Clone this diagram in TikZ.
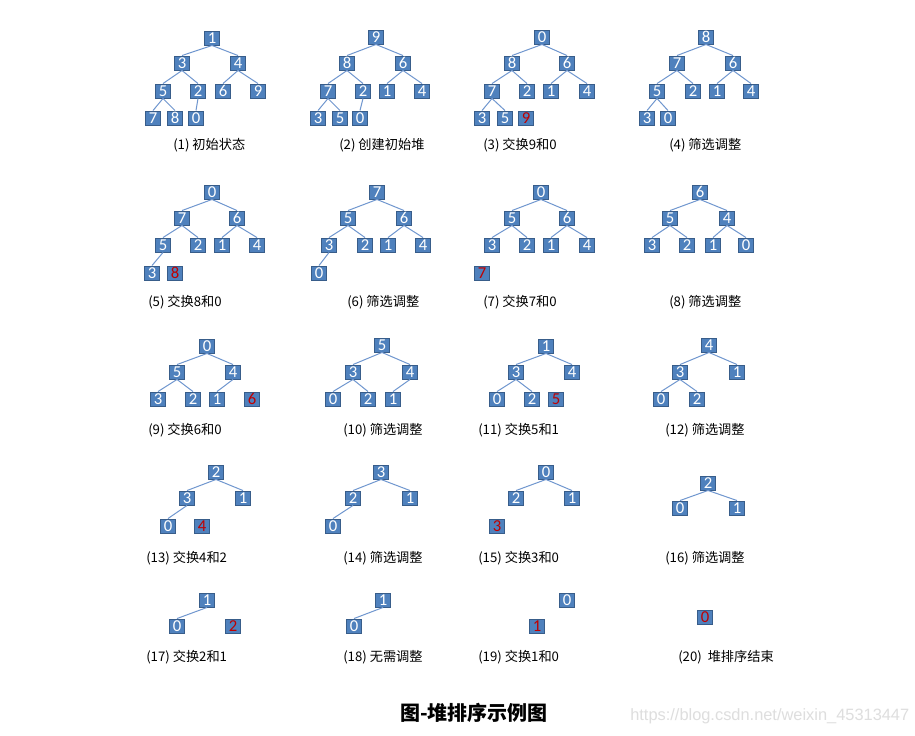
\documentclass[tikz,border=0pt]{standalone}
\usepackage{fontspec}
\setmainfont{Carlito}
\newfontfamily\cjk{Noto Sans CJK SC}
\newfontfamily\wmfont{Liberation Sans}
\definecolor{boxfill}{HTML}{4F81BD}
\definecolor{boxline}{HTML}{385D8A}
\definecolor{edgeblue}{HTML}{7097CF}
\definecolor{gone}{HTML}{C00000}

\begin{document}
\begin{tikzpicture}[x=0.75pt, y=-0.75pt,
        box/.style={draw=boxline, fill=boxfill, line width=0.7pt, text=white,
            minimum width=11.25pt, minimum height=10.5pt, inner sep=0pt,
            font=\fontsize{12.5}{12}\selectfont},
        gonebox/.style={box, text=gone},
        edge/.style={draw=edgeblue, line width=0.75pt},
        lbl/.style={anchor=west, inner sep=0pt, font=\cjk\fontsize{9.9}{11}\selectfont}]
        \fill[white] (0, 0) rectangle (915, 736);

        % (1)
        \node[box] (a1) at (212, 38) {1};
        \node[box] (a3) at (182, 63) {3};
        \node[box] (a4) at (238, 63) {4};
        \node[box] (a5) at (163, 91) {5};
        \node[box] (a2) at (198, 91) {2};
        \node[box] (a6) at (223, 91) {6};
        \node[box] (a9) at (258, 91) {9};
        \node[box] (a7) at (153, 118) {7};
        \node[box] (a8) at (175, 118) {8};
        \node[box] (a0) at (196, 118) {0};
        \node[lbl] (la) at (173, 145) {(1) 初始状态};

        \draw[edge] (a1.south) -- (a3.north);
        \draw[edge] (a1.south) -- (a4.north);
        \draw[edge] (a3.south) -- (a5.north);
        \draw[edge] (a3.south) -- (a2.north);
        \draw[edge] (a4.south) -- (a6.north);
        \draw[edge] (a4.south) -- (a9.north);
        \draw[edge] (a5.south) -- (a7.north);
        \draw[edge] (a5.south) -- (a8.north);
        \draw[edge] (a2.south) -- (a0.north);

        % (2)
        \node[box] (b9) at (376, 37) {9};
        \node[box] (b8) at (347, 63) {8};
        \node[box] (b6) at (403, 63) {6};
        \node[box] (b7) at (328, 91) {7};
        \node[box] (b2) at (363, 91) {2};
        \node[box] (b1) at (387, 91) {1};
        \node[box] (b4) at (422, 91) {4};
        \node[box] (b3) at (318, 118) {3};
        \node[box] (b5) at (340, 118) {5};
        \node[box] (b0) at (360, 118) {0};
        \node[lbl] (lb) at (339, 145) {(2) 创建初始堆};

        \draw[edge] (b9.south) -- (b8.north);
        \draw[edge] (b9.south) -- (b6.north);
        \draw[edge] (b8.south) -- (b7.north);
        \draw[edge] (b8.south) -- (b2.north);
        \draw[edge] (b6.south) -- (b1.north);
        \draw[edge] (b6.south) -- (b4.north);
        \draw[edge] (b7.south) -- (b3.north);
        \draw[edge] (b7.south) -- (b5.north);
        \draw[edge] (b2.south) -- (b0.north);

        % (3)
        \node[box] (c0) at (542, 37) {0};
        \node[box] (c8) at (512, 63) {8};
        \node[box] (c6) at (567, 63) {6};
        \node[box] (c7) at (492, 91) {7};
        \node[box] (c2) at (527, 91) {2};
        \node[box] (c1) at (551, 91) {1};
        \node[box] (c4) at (587, 91) {4};
        \node[box] (c3) at (482, 118) {3};
        \node[box] (c5) at (505, 118) {5};
        \node[gonebox] (c9) at (526, 118) {9};
        \node[lbl] (lc) at (483, 145) {(3) 交换9和0};

        \draw[edge] (c0.south) -- (c8.north);
        \draw[edge] (c0.south) -- (c6.north);
        \draw[edge] (c8.south) -- (c7.north);
        \draw[edge] (c8.south) -- (c2.north);
        \draw[edge] (c6.south) -- (c1.north);
        \draw[edge] (c6.south) -- (c4.north);
        \draw[edge] (c7.south) -- (c3.north);
        \draw[edge] (c7.south) -- (c5.north);

        % (4)
        \node[box] (d8) at (706, 37) {8};
        \node[box] (d7) at (677, 63) {7};
        \node[box] (d6) at (733, 63) {6};
        \node[box] (d5) at (657, 91) {5};
        \node[box] (d2) at (693, 91) {2};
        \node[box] (d1) at (717, 91) {1};
        \node[box] (d4) at (751, 91) {4};
        \node[box] (d3) at (647, 118) {3};
        \node[box] (d0) at (668, 118) {0};
        \node[lbl] (ld) at (669, 145) {(4) 筛选调整};

        \draw[edge] (d8.south) -- (d7.north);
        \draw[edge] (d8.south) -- (d6.north);
        \draw[edge] (d7.south) -- (d5.north);
        \draw[edge] (d7.south) -- (d2.north);
        \draw[edge] (d6.south) -- (d1.north);
        \draw[edge] (d6.south) -- (d4.north);
        \draw[edge] (d5.south) -- (d3.north);
        \draw[edge] (d5.south) -- (d0.north);

        % (5)
        \node[box] (e0) at (212, 192) {0};
        \node[box] (e7) at (182, 218) {7};
        \node[box] (e6) at (237, 218) {6};
        \node[box] (e5) at (163, 245) {5};
        \node[box] (e2) at (198, 245) {2};
        \node[box] (e1) at (222, 245) {1};
        \node[box] (e4) at (257, 245) {4};
        \node[box] (e3) at (152, 273) {3};
        \node[gonebox] (e8) at (175, 273) {8};
        \node[lbl] (le) at (148, 302) {(5) 交换8和0};

        \draw[edge] (e0.south) -- (e7.north);
        \draw[edge] (e0.south) -- (e6.north);
        \draw[edge] (e7.south) -- (e5.north);
        \draw[edge] (e7.south) -- (e2.north);
        \draw[edge] (e6.south) -- (e1.north);
        \draw[edge] (e6.south) -- (e4.north);
        \draw[edge] (e5.south) -- (e3.north);

        % (6)
        \node[box] (f7) at (377, 192) {7};
        \node[box] (f5) at (348, 218) {5};
        \node[box] (f6) at (404, 218) {6};
        \node[box] (f3) at (329, 245) {3};
        \node[box] (f2) at (365, 245) {2};
        \node[box] (f1) at (388, 245) {1};
        \node[box] (f4) at (423, 245) {4};
        \node[box] (f0) at (319, 273) {0};
        \node[lbl] (lf) at (347, 302) {(6) 筛选调整};

        \draw[edge] (f7.south) -- (f5.north);
        \draw[edge] (f7.south) -- (f6.north);
        \draw[edge] (f5.south) -- (f3.north);
        \draw[edge] (f5.south) -- (f2.north);
        \draw[edge] (f6.south) -- (f1.north);
        \draw[edge] (f6.south) -- (f4.north);
        \draw[edge] (f3.south) -- (f0.north);

        % (7)
        \node[box] (g0) at (541, 192) {0};
        \node[box] (g5) at (512, 218) {5};
        \node[box] (g6) at (567, 218) {6};
        \node[box] (g3) at (492, 245) {3};
        \node[box] (g2) at (527, 245) {2};
        \node[box] (g1) at (551, 245) {1};
        \node[box] (g4) at (587, 245) {4};
        \node[gonebox] (g7) at (482, 273) {7};
        \node[lbl] (lg) at (483, 302) {(7) 交换7和0};

        \draw[edge] (g0.south) -- (g5.north);
        \draw[edge] (g0.south) -- (g6.north);
        \draw[edge] (g5.south) -- (g3.north);
        \draw[edge] (g5.south) -- (g2.north);
        \draw[edge] (g6.south) -- (g1.north);
        \draw[edge] (g6.south) -- (g4.north);

        % (8)
        \node[box] (h6) at (700, 192) {6};
        \node[box] (h5) at (670, 218) {5};
        \node[box] (h4) at (727, 218) {4};
        \node[box] (h3) at (652, 245) {3};
        \node[box] (h2) at (687, 245) {2};
        \node[box] (h1) at (713, 245) {1};
        \node[box] (h0) at (746, 245) {0};
        \node[lbl] (lh) at (669, 302) {(8) 筛选调整};

        \draw[edge] (h6.south) -- (h5.north);
        \draw[edge] (h6.south) -- (h4.north);
        \draw[edge] (h5.south) -- (h3.north);
        \draw[edge] (h5.south) -- (h2.north);
        \draw[edge] (h4.south) -- (h1.north);
        \draw[edge] (h4.south) -- (h0.north);

        % (9)
        \node[box] (i0) at (207, 346) {0};
        \node[box] (i5) at (177, 372) {5};
        \node[box] (i4) at (233, 372) {4};
        \node[box] (i3) at (158, 399) {3};
        \node[box] (i2) at (193, 399) {2};
        \node[box] (i1) at (217, 399) {1};
        \node[gonebox] (i6) at (252, 399) {6};
        \node[lbl] (li) at (148, 430) {(9) 交换6和0};

        \draw[edge] (i0.south) -- (i5.north);
        \draw[edge] (i0.south) -- (i4.north);
        \draw[edge] (i5.south) -- (i3.north);
        \draw[edge] (i5.south) -- (i2.north);
        \draw[edge] (i4.south) -- (i1.north);

        % (10)
        \node[box] (j5) at (382, 345) {5};
        \node[box] (j3) at (353, 372) {3};
        \node[box] (j4) at (410, 372) {4};
        \node[box] (j0) at (333, 399) {0};
        \node[box] (j2) at (368, 399) {2};
        \node[box] (j1) at (393, 399) {1};
        \node[lbl] (lj) at (343, 430) {(10) 筛选调整};

        \draw[edge] (j5.south) -- (j3.north);
        \draw[edge] (j5.south) -- (j4.north);
        \draw[edge] (j3.south) -- (j0.north);
        \draw[edge] (j3.south) -- (j2.north);
        \draw[edge] (j4.south) -- (j1.north);

        % (11)
        \node[box] (k1) at (546, 346) {1};
        \node[box] (k3) at (516, 372) {3};
        \node[box] (k4) at (572, 372) {4};
        \node[box] (k0) at (497, 399) {0};
        \node[box] (k2) at (532, 399) {2};
        \node[gonebox] (k5) at (556, 399) {5};
        \node[lbl] (lk) at (478, 430) {(11) 交换5和1};

        \draw[edge] (k1.south) -- (k3.north);
        \draw[edge] (k1.south) -- (k4.north);
        \draw[edge] (k3.south) -- (k0.north);
        \draw[edge] (k3.south) -- (k2.north);

        % (12)
        \node[box] (l4) at (709, 345) {4};
        \node[box] (l3) at (680, 372) {3};
        \node[box] (l1) at (737, 372) {1};
        \node[box] (l0) at (661, 399) {0};
        \node[box] (l2) at (697, 399) {2};
        \node[lbl] (ll) at (665, 430) {(12) 筛选调整};

        \draw[edge] (l4.south) -- (l3.north);
        \draw[edge] (l4.south) -- (l1.north);
        \draw[edge] (l3.south) -- (l0.north);
        \draw[edge] (l3.south) -- (l2.north);

        % (13)
        \node[box] (m2) at (216, 472) {2};
        \node[box] (m3) at (187, 498) {3};
        \node[box] (m1) at (243, 498) {1};
        \node[box] (m0) at (168, 526) {0};
        \node[gonebox] (m4) at (202, 526) {4};
        \node[lbl] (lm) at (146, 558) {(13) 交换4和2};

        \draw[edge] (m2.south) -- (m3.north);
        \draw[edge] (m2.south) -- (m1.north);
        \draw[edge] (m3.south) -- (m0.north);

        % (14)
        \node[box] (n3) at (381, 472) {3};
        \node[box] (n2) at (353, 498) {2};
        \node[box] (n1) at (410, 498) {1};
        \node[box] (n0) at (333, 526) {0};
        \node[lbl] (ln) at (343, 558) {(14) 筛选调整};

        \draw[edge] (n3.south) -- (n2.north);
        \draw[edge] (n3.south) -- (n1.north);
        \draw[edge] (n2.south) -- (n0.north);

        % (15)
        \node[box] (o0) at (546, 472) {0};
        \node[box] (o2) at (516, 498) {2};
        \node[box] (o1) at (572, 498) {1};
        \node[gonebox] (o3) at (497, 526) {3};
        \node[lbl] (lo) at (478, 558) {(15) 交换3和0};

        \draw[edge] (o0.south) -- (o2.north);
        \draw[edge] (o0.south) -- (o1.north);

        % (16)
        \node[box] (p2) at (708, 483) {2};
        \node[box] (p0) at (680, 508) {0};
        \node[box] (p1) at (737, 508) {1};
        \node[lbl] (lp) at (665, 558) {(16) 筛选调整};

        \draw[edge] (p2.south) -- (p0.north);
        \draw[edge] (p2.south) -- (p1.north);

        % (17)
        \node[box] (q1) at (207, 600) {1};
        \node[box] (q0) at (177, 626) {0};
        \node[gonebox] (q2) at (233, 626) {2};
        \node[lbl] (lq) at (146, 657) {(17) 交换2和1};

        \draw[edge] (q1.south) -- (q0.north);

        % (18)
        \node[box] (r1) at (383, 600) {1};
        \node[box] (r0) at (354, 626) {0};
        \node[lbl] (lr) at (343, 657) {(18) 无需调整};

        \draw[edge] (r1.south) -- (r0.north);

        % (19)
        \node[box] (s0) at (567, 600) {0};
        \node[gonebox] (s1) at (537, 626) {1};
        \node[lbl] (ls) at (478, 657) {(19) 交换1和0};

        % (20)
        \node[gonebox] (t0) at (705, 617) {0};
        \node[lbl] (lt) at (678, 657) {(20)\ \ 堆排序结束};

        \node[font=\cjk\bfseries\fontsize{15}{17}\selectfont] (title) at (474, 713) {图-堆排序示例图};
        \node[anchor=west, inner sep=0pt, text=black!13, font=\wmfont\fontsize{12.3}{14}\selectfont] (mark) at (630, 716) {https://blog.csdn.net/weixin\_45313447};
    \end{tikzpicture}
\end{document}
